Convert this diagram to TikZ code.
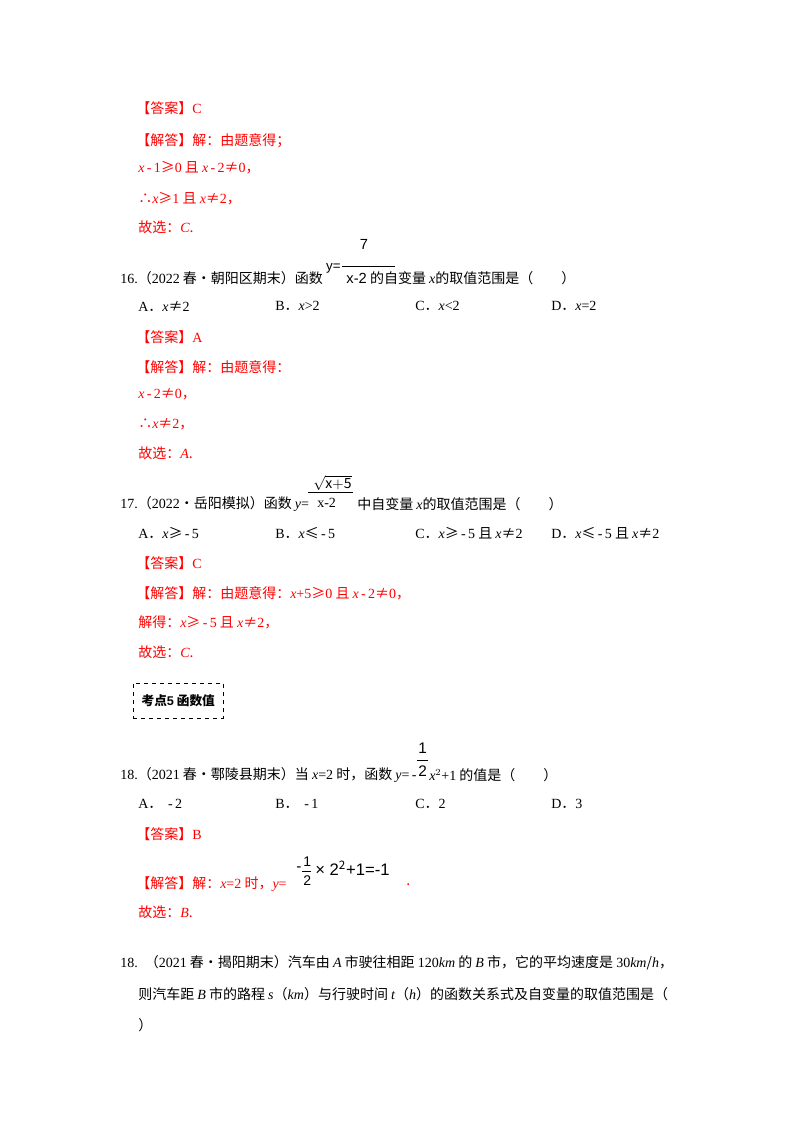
\documentclass[tikz,border=0pt]{standalone}
\usepackage{fontspec}
\setmainfont{Noto Sans CJK SC}
\newfontfamily\tm{Liberation Serif}
\newfontfamily\ar{Liberation Sans}
\newcommand\vx{{\tm\itshape x}}
\newcommand\vi[1]{{\tm\itshape #1}}
\newcommand\n[1]{{\tm #1}}
\begin{document}
\begin{tikzpicture}[x=0.75pt,y=-0.75pt,
  t/.style={anchor=west,inner sep=0,font=\fontsize{10.5}{12}\selectfont},
  r/.style={t,text=red}]
\useasboundingbox (0,0) rectangle (800,1132);
\fill[white] (0,0) rectangle (800,1132);
% Q15 answer
\node[r] (a1) at (136,108) {【答案】\n{C}};
\node[r] (a2) at (136,141) {【解答】解：由题意得；};
\node[r] (a3) at (138,168) {\vx\n{\,-\,1}≥\n{0} 且 \vx\n{\,-\,2}≠\n{0}，};
\node[r] (a4) at (138,199) {∴\vx≥\n{1} 且 \vx≠\n{2}，};
\node[r] (a5) at (138,227) {故选：\vi{C}.};
% Q16
\node[t] (q16) at (120,278) {\n{16.}（\n{2022} 春•朝阳区期末）函数};
\node[t,font=\ar\fontsize{10}{12}\selectfont] (f16y) at ([xshift=2pt,yshift=7pt]q16.east) {y=};
\node[t,font=\ar\fontsize{11}{12}\selectfont] (f16n) at ([xshift=14pt,yshift=18pt]f16y.east) {7};
\draw ([xshift=1pt,yshift=2pt]f16y.east) -- ++(53,0);
\node[t,font=\ar\fontsize{11}{12}\selectfont] (f16d) at ([xshift=4pt,yshift=-7pt]f16y.east) {x-2};
\node[t] (q16b) at ([xshift=2pt,yshift=-7pt]f16y.east -| f16d.east) {的自变量 \vx 的取值范围是（\qquad ）};
\node[t] (o16a) at (138,306) {\n{A}．\vx≠\n{2}};
\node[t] (o16b) at (275,306) {\n{B}．\vx\n{>2}};
\node[t] (o16c) at (415,306) {\n{C}．\vx\n{<2}};
\node[t] (o16d) at (551,306) {\n{D}．\vx\n{=2}};
\node[r] (b1) at (136,337) {【答案】\n{A}};
\node[r] (b2) at (136,367) {【解答】解：由题意得：};
\node[r] (b3) at (138,394) {\vx\n{\,-\,2}≠\n{0}，};
\node[r] (b4) at (138,424) {∴\vx≠\n{2}，};
\node[r] (b5) at (138,453) {故选：\vi{A}.};
% Q17
\node[t] (q17) at (120,504) {\n{17.}（\n{2022}•岳阳模拟）函数 \vi{y}\n{=}};
\node[t,font=\tm\fontsize{10.5}{12}\selectfont] (f17n) at (313,483) {$\sqrt{\mathrm{x{+}5}}$};
\draw (308,492) -- (353,492);
\node[t,font=\tm\fontsize{10.5}{12}\selectfont] (f17d) at (317,503) {x-2};
\node[t] (q17b) at (357,504) {中自变量 \vx 的取值范围是（\qquad ）};
\node[t] (o17a) at (138,533) {\n{A}．\vx≥\n{\,-\,5}};
\node[t] (o17b) at (275,533) {\n{B}．\vx≤\n{\,-\,5}};
\node[t] (o17c) at (415,533) {\n{C}．\vx≥\n{\,-\,5} 且 \vx≠\n{2}};
\node[t] (o17d) at (551,533) {\n{D}．\vx≤\n{\,-\,5} 且 \vx≠\n{2}};
\node[r] (c1) at (136,563) {【答案】\n{C}};
\node[r] (c2) at (136,593) {【解答】解：由题意得：\vx\n{+5}≥\n{0} 且 \vx\n{\,-\,2}≠\n{0}，};
\node[r] (c3) at (138,622) {解得：\vx≥\n{\,-\,5} 且 \vx≠\n{2}，};
\node[r] (c4) at (138,652) {故选：\vi{C}.};
% box
\node[draw,dashed,anchor=north west,minimum width=90*0.75pt,minimum height=35*0.75pt,inner sep=0,font=\bfseries\fontsize{9.5}{11}\selectfont] (box) at (133,683) {考点\n{\ar 5}\ 函数值};
% Q18
\node[t] (q18) at (120,775) {\n{18.}（\n{2021} 春•鄠陵县期末）当 \vx\n{=2} 时，函数 \vi{y}\n{=\,-}};
\node[t,font=\ar\fontsize{11.5}{12}\selectfont] (f18n) at (418,748) {1};
\draw (417,760) -- (428,760);
\node[t,font=\ar\fontsize{11.5}{12}\selectfont] (f18d) at (418,771) {2};
\node[t] (q18b) at (429,775) {\vx\n{$^2$+1} 的值是（\qquad ）};
\node[t] (o18a) at (138,804) {\n{A}．\n{\ \,-\,2}};
\node[t] (o18b) at (275,804) {\n{B}．\n{\ \,-\,1}};
\node[t] (o18c) at (415,804) {\n{C}．\n{2}};
\node[t] (o18d) at (551,804) {\n{D}．\n{3}};
\node[r] (d1) at (136,834) {【答案】\n{B}};
\node[r] (d2) at (136,884) {【解答】解：\vx\n{=2} 时，\vi{y}\n{=}};
\node[t,font=\ar\fontsize{11.5}{12}\selectfont] (f19m) at (296,869) {-};
\node[t,font=\ar\fontsize{10.5}{12}\selectfont] (f19n) at (303,862) {1};
\draw (302,871) -- (311,871);
\node[t,font=\ar\fontsize{10.5}{12}\selectfont] (f19d) at (303,881) {2};
\node[t,font=\ar\fontsize{12.5}{12}\selectfont] (f19r) at (315,868) {× 2$^{\mathrm{2}}$+1=-1};
\node[r] (d3) at (406,885) {.};
\node[r] (d4) at (138,912) {故选：\vi{B}.};
% Q18b
\node[t] (q19) at (120,963) {\n{18.}\enspace （\n{2021} 春•揭阳期末）汽车由 \vi{A} 市驶往相距 \n{120}\vi{km} 的 \vi{B} 市，它的平均速度是 \n{30}\vi{km}/\vi{h}，};
\node[t] (q19b) at (138,994) {则汽车距 \vi{B} 市的路程 \vi{s}（\vi{km}）与行驶时间 \vi{t}（\vi{h}）的函数关系式及自变量的取值范围是（};
\node[t] (q19c) at (138,1025) {）};
\end{tikzpicture}
\end{document}
